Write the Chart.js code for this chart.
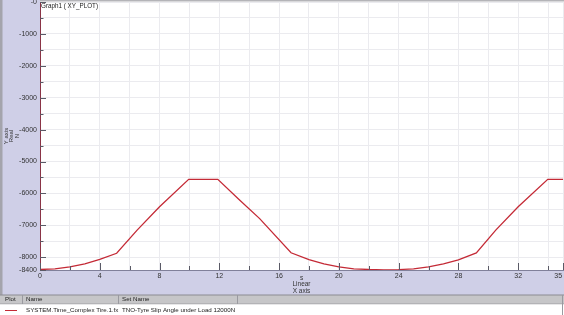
<!DOCTYPE html>
<html><head><meta charset="utf-8">
<script src="https://cdn.jsdelivr.net/npm/chart.js@4.4.1/dist/chart.umd.min.js"></script>
<style>html,body{margin:0;padding:0;background:#fff;overflow:hidden}canvas{display:block}</style>
</head><body>
<canvas id="c" width="564" height="315"></canvas>
<script>
// ---- data ----
const timeS = [0, 1, 2, 3, 4, 5.13, 6.5, 8, 9.95, 11.9, 13.3, 14.7, 16.8, 18, 19, 20, 21, 22, 23, 24, 25, 26, 27, 28, 29.2, 30.5, 32, 33.98, 35];
const forceN = [-8385, -8365, -8305, -8205, -8070, -7875, -7150, -6420, -5560, -5560, -6180, -6790, -7860, -8075, -8210, -8303, -8362, -8385, -8395, -8388, -8362, -8303, -8208, -8080, -7865, -7150, -6420, -5560, -5560];
const yTickValues = [0, -500, -1000, -1500, -2000, -2500, -3000, -3500, -4000, -4500, -5000, -5500, -6000, -6500, -7000, -7500, -8000, -8400];
const yLabelValues = [0, -1000, -2000, -3000, -4000, -5000, -6000, -7000, -8000, -8400];
const xTickValues = [0, 2, 4, 6, 8, 10, 12, 14, 16, 18, 20, 22, 24, 26, 28, 30, 32, 34, 35];
const xLabelValues = [0, 4, 8, 12, 16, 20, 24, 28, 32, 35];
const plotTitle = 'Graph1 ( XY_PLOT)';
const yTitle = ['Y axis', 'Real', 'N'];
const xTitle = ['s', 'Linear', 'X axis'];
const tableHeaders = ['Plot', 'Name', 'Set Name'];
const tableRow = ['SYSTEM.Time_Complex Tire.1.fx', 'TNO-Tyre Slip Angle under Load 12000N'];

const FONT = "'Liberation Sans', Arial, Helvetica, sans-serif";
const LAV = '#cfcfe7';
const LINE_COLOR = '#c42a36';

const decor = {
  id: 'decor',
  beforeDraw(chart) {
    const c = chart.ctx, W = chart.width, H = chart.height, a = chart.chartArea;
    c.save();
    c.fillStyle = '#ffffff'; c.fillRect(0, 0, W, H);
    c.fillStyle = LAV;
    c.fillRect(0, 0, a.left, 295);
    c.fillRect(0, a.bottom, W, 295 - a.bottom);
    c.fillStyle = '#a4a4ac'; c.fillRect(0, 0, 2.5, 295);
    c.fillStyle = '#b4b4b8'; c.fillRect(a.left, 0, W - a.left, 1.5);
    c.restore();
  },
  afterDraw(chart) {
    const c = chart.ctx, W = chart.width, a = chart.chartArea;
    const xs = chart.scales.x, ys = chart.scales.y;
    c.save();
    // inside tick marks
    c.strokeStyle = '#5a5a66'; c.lineWidth = 1;
    c.beginPath();
    ys.ticks.forEach(t => {
      const py = Math.round(ys.getPixelForValue(t.value)) + 0.5;
      const len = yLabelValues.includes(t.value) ? 6 : 3.5;
      c.moveTo(a.left, py); c.lineTo(a.left + len, py);
    });
    xs.ticks.forEach(t => {
      const px = Math.round(xs.getPixelForValue(t.value)) + 0.5;
      const len = xLabelValues.includes(t.value) ? 7 : 4;
      c.moveTo(px, a.bottom); c.lineTo(px, a.bottom - len);
    });
    c.stroke();
    // plot title
    c.fillStyle = '#1a1a1a'; c.font = '6.3px ' + FONT; c.textBaseline = 'middle'; c.textAlign = 'left';
    c.fillText(plotTitle, a.left + 1, 6);
    // table
    c.fillStyle = '#c6c6c8'; c.fillRect(0, 295, W, 9);
    c.fillStyle = '#8c8c92'; c.fillRect(0, 294.5, W, 1);
    c.fillStyle = '#a0a0a4'; c.fillRect(0, 303.5, W, 1);
    c.fillStyle = '#ffffff'; c.fillRect(0, 304.5, W, 11);
    c.strokeStyle = '#9a9aa0';
    c.beginPath();
    [22.5, 118.5, 237.5, 562.5].forEach(x => { c.moveTo(x, 295); c.lineTo(x, 304); });
    c.moveTo(562.5, 304); c.lineTo(562.5, 315);
    c.stroke();
    c.fillStyle = '#222'; c.font = '6.2px ' + FONT;
    c.fillText(tableHeaders[0], 5, 299.5);
    c.fillText(tableHeaders[1], 26, 299.5);
    c.fillText(tableHeaders[2], 122, 299.5);
    c.fillText(tableRow[0], 26, 310);
    c.fillText(tableRow[1], 122, 310);
    c.strokeStyle = LINE_COLOR; c.lineWidth = 1;
    c.beginPath(); c.moveTo(5, 310.5); c.lineTo(17, 310.5); c.stroke();
    c.restore();
  }
};

new Chart(document.getElementById('c').getContext('2d'), {
  type: 'line',
  data: {
    datasets: [{
      data: timeS.map((x, i) => ({ x: x, y: forceN[i] })),
      borderColor: LINE_COLOR, borderWidth: 1.3, pointRadius: 0, tension: 0, fill: false
    }]
  },
  options: {
    responsive: false, animation: false, devicePixelRatio: 1,
    layout: { padding: { top: 2, right: 1, left: 0, bottom: 20 } },
    plugins: { legend: { display: false }, tooltip: { enabled: false }, title: { display: false } },
    scales: {
      x: {
        type: 'linear', min: 0, max: 35,
        afterBuildTicks(s) { s.ticks = xTickValues.map(v => ({ value: v })); },
        afterFit(s) { s.height = 25; s.paddingLeft = 0; s.paddingRight = 0; },
        ticks: {
          autoSkip: false, maxRotation: 0, minRotation: 0, padding: 1.5,
          font: { family: FONT, size: 7 }, color: '#333',
          callback(v) { if (!xLabelValues.includes(v)) return ''; return v === 35 ? '35     ' : String(v); }
        },
        grid: { color: '#ebebef', drawTicks: false, lineWidth: 1 },
        border: { color: '#80809a', width: 1 },
        title: { display: true, text: xTitle, font: { family: FONT, size: 6.5, lineHeight: 1 }, color: '#333', padding: { top: 0, bottom: 1 } }
      },
      y: {
        type: 'linear', min: -8400, max: 0,
        afterBuildTicks(s) { s.ticks = yTickValues.map(v => ({ value: v })); },
        afterFit(s) { s.width = 40; s.paddingTop = 0; s.paddingBottom = 0; },
        ticks: {
          autoSkip: false, padding: 3,
          font: { family: FONT, size: 7 }, color: '#333',
          callback(v) { if (!yLabelValues.includes(v)) return ''; return v === 0 ? '-0' : String(v); }
        },
        grid: { color: '#ebebef', drawTicks: false, lineWidth: 1 },
        border: { color: '#8a3446', width: 1 },
        title: { display: true, text: yTitle, font: { family: FONT, size: 6, lineHeight: 0.95 }, color: '#333', padding: { top: 3, bottom: 0 } }
      }
    }
  },
  plugins: [decor]
});
</script>
</body></html>
